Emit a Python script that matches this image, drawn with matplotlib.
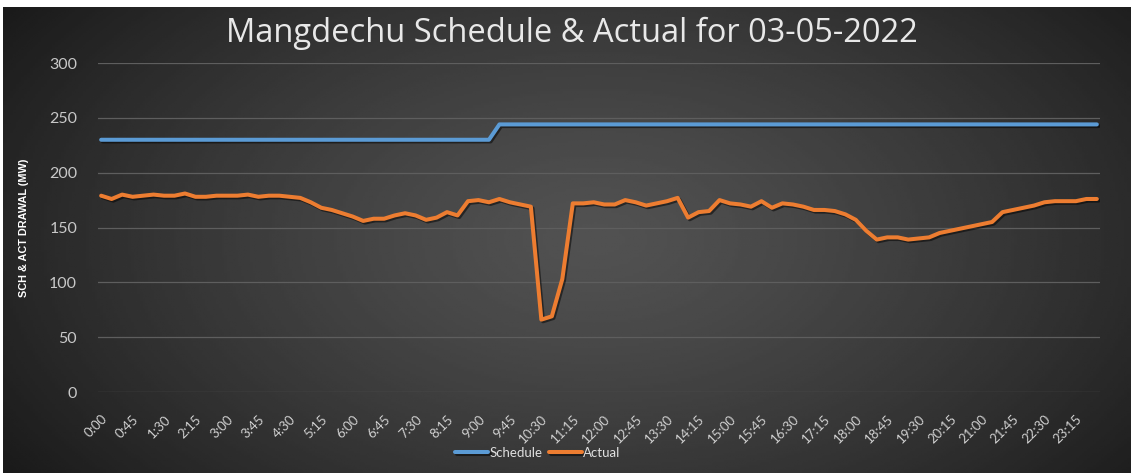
import matplotlib
matplotlib.use("Agg")
import matplotlib.pyplot as plt
import matplotlib.patheffects as pe
import numpy as np

# 15-minute blocks for the day
times = ["%d:%02d" % (i // 4, (i % 4) * 15) for i in range(96)]

schedule = [230] * 38 + [244] * 58

actual = [179, 176, 180, 178, 179, 180, 179, 179, 181, 178,
          178, 179, 179, 179, 180, 178, 179, 179, 178, 177,
          173, 168, 166, 163, 160, 156, 158, 158, 161, 163,
          161, 157, 159, 164, 161, 174, 175, 173, 176, 173,
          171, 169, 66, 69, 103, 172, 172, 173, 171, 171,
          175, 173, 170, 172, 174, 177, 159, 164, 165, 175,
          172, 171, 169, 174, 168, 172, 171, 169, 166, 166,
          165, 162, 157, 147, 139, 141, 141, 139, 140, 141,
          145, 147, 149, 151, 153, 155, 164, 166, 168, 170,
          173, 174, 174, 174, 176, 176]

yticks = [0, 50, 100, 150, 200, 250, 300]

plt.rcParams['font.family'] = ['Lato', 'DejaVu Sans']

fig = plt.figure(figsize=(11.31, 4.73), dpi=100, facecolor='white')

# dark gradient background like the Excel chart style
bg = fig.add_axes([3 / 1131, 0, 1 - 3 / 1131, 466 / 473])
xx, yy = np.meshgrid(np.linspace(-1, 1, 400), np.linspace(-1, 1, 200))
r = np.sqrt(((xx - 0.05) / 1.0) ** 2 + (yy / 1.4) ** 2)
grad = 0.32 - 0.16 * np.clip(r, 0, 1.3) ** 1.3
bg.imshow(grad, cmap='gray', vmin=0, vmax=1, aspect='auto', extent=[0, 1, 0, 1])
bg.axis('off')

ax = fig.add_axes([98 / 1131, 1 - 392 / 473, (1100 - 98) / 1131, (392 - 63) / 473])
ax.set_facecolor('none')

x = np.arange(len(times))
shadow = [pe.SimpleLineShadow(offset=(1.2, -1.2), shadow_color='black', alpha=0.5), pe.Normal()]
ax.plot(x, schedule, color='#5b9bd5', lw=2.9, solid_capstyle='round', label='Schedule', path_effects=shadow)
ax.plot(x, actual, color='#ed7d31', lw=2.9, solid_capstyle='round', label='Actual', path_effects=shadow)

ax.set_xlim(-0.3, 95.3)
ax.set_ylim(0, 300)
ax.set_yticks(yticks)
ax.grid(axis='y', color='#5e5e5e', lw=0.9)
ax.set_axisbelow(True)
for s in ax.spines.values():
    s.set_visible(False)

ax.set_xticks(x[::3])
ax.set_xticklabels(times[::3], rotation=45, ha='right', va='top', rotation_mode='anchor')
ax.tick_params(axis='x', length=0, pad=15, labelsize=9.5, labelcolor='#d0d0d0')
ax.tick_params(axis='y', length=0, pad=15, labelsize=11.5, labelcolor='#c8c8c8')

fig.text(24 / 1131, 1 - 228 / 473, 'SCH & ACT DRAWAL (MW)', rotation=90, ha='center', va='center',
         color='white', fontsize=7.8, fontweight='bold',
         family=['Liberation Sans', 'DejaVu Sans'])

fig.text(572 / 1131, 1 - 33 / 473, 'Mangdechu Schedule & Actual for 03-05-2022', ha='center', va='center',
         color='#e8e8e8', fontsize=23.5, family=['Open Sans', 'DejaVu Sans'])

leg = ax.legend(loc='center', bbox_to_anchor=(538 / 1131, 1 - 453 / 473), bbox_transform=fig.transFigure,
                ncol=2, frameon=False, fontsize=9.5, handlelength=2.5, handletextpad=0.1, columnspacing=0.5)
for t in leg.get_texts():
    t.set_color('#e0e0e0')

fig.savefig('out.png', dpi=100, facecolor=fig.get_facecolor())
